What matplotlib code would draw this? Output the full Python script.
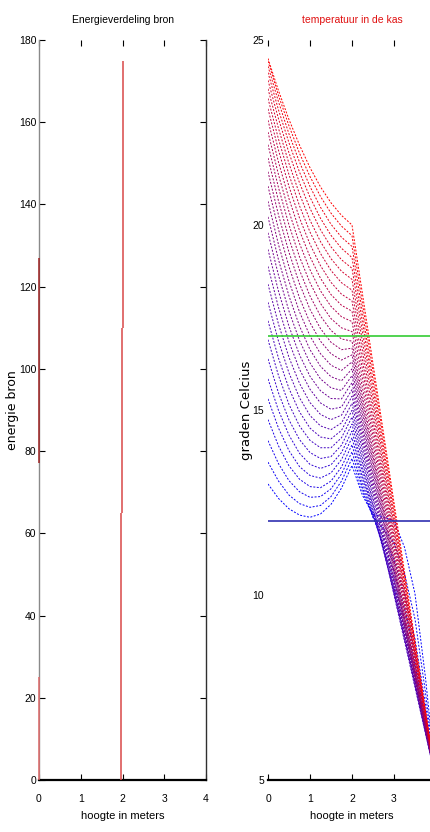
import matplotlib
matplotlib.use("Agg")
import matplotlib.pyplot as plt

# ---------------- data ----------------
heights = [0.0, 0.25, 0.5, 0.75, 1.0, 1.25, 1.5, 1.75, 2.0,
           2.25, 2.5, 2.75, 3.0, 3.25, 3.5, 3.75, 4.0]

# temperature profiles (first = earliest/blue, last = final/red)
temperature_profiles = [
    [13.00, 12.61, 12.33, 12.16, 12.10, 12.19, 12.45, 12.89, 13.50, 12.69, 12.18, 12.11, 12.00, 11.29, 10.03, 7.76, 5.00],
    [13.59, 13.08, 12.70, 12.47, 12.37, 12.42, 12.66, 13.08, 13.69, 12.79, 12.12, 11.78, 11.41, 10.58, 9.35, 7.36, 5.00],
    [14.17, 13.55, 13.09, 12.79, 12.64, 12.66, 12.87, 13.27, 13.87, 12.90, 12.10, 11.54, 10.95, 10.03, 8.81, 7.04, 5.00],
    [14.74, 14.03, 13.49, 13.13, 12.93, 12.90, 13.08, 13.46, 14.06, 13.03, 12.11, 11.38, 10.63, 9.64, 8.43, 6.81, 5.00],
    [15.30, 14.51, 13.90, 13.47, 13.23, 13.16, 13.30, 13.66, 14.25, 13.16, 12.16, 11.28, 10.39, 9.34, 8.12, 6.63, 5.00],
    [15.84, 14.99, 14.32, 13.83, 13.53, 13.42, 13.52, 13.85, 14.43, 13.30, 12.22, 11.22, 10.21, 9.10, 7.88, 6.49, 5.00],
    [16.38, 15.46, 14.73, 14.20, 13.85, 13.69, 13.74, 14.05, 14.62, 13.44, 12.30, 11.19, 10.09, 8.92, 7.70, 6.37, 5.00],
    [16.90, 15.93, 15.15, 14.57, 14.18, 13.98, 13.98, 14.25, 14.81, 13.59, 12.40, 11.22, 10.04, 8.83, 7.60, 6.31, 5.00],
    [17.41, 16.40, 15.58, 14.95, 14.51, 14.27, 14.22, 14.45, 14.99, 13.74, 12.50, 11.25, 10.00, 8.75, 7.50, 6.25, 5.00],
    [17.91, 16.86, 16.00, 15.33, 14.85, 14.57, 14.47, 14.65, 15.18, 13.91, 12.63, 11.36, 10.09, 8.82, 7.55, 6.27, 5.00],
    [18.40, 17.32, 16.42, 15.72, 15.20, 14.88, 14.74, 14.86, 15.37, 14.07, 12.77, 11.48, 10.18, 8.89, 7.59, 6.30, 5.00],
    [18.88, 17.77, 16.84, 16.10, 15.56, 15.19, 15.02, 15.08, 15.55, 14.23, 12.91, 11.60, 10.28, 8.96, 7.64, 6.32, 5.00],
    [19.34, 18.21, 17.26, 16.49, 15.91, 15.52, 15.31, 15.30, 15.74, 14.40, 13.05, 11.71, 10.37, 9.03, 7.69, 6.34, 5.00],
    [19.79, 18.64, 17.67, 16.88, 16.27, 15.84, 15.60, 15.53, 15.93, 14.56, 13.19, 11.83, 10.46, 9.10, 7.73, 6.37, 5.00],
    [20.22, 19.06, 18.08, 17.27, 16.63, 16.18, 15.90, 15.79, 16.11, 14.72, 13.33, 11.95, 10.56, 9.17, 7.78, 6.39, 5.00],
    [20.64, 19.47, 18.48, 17.65, 17.00, 16.52, 16.21, 16.07, 16.30, 14.89, 13.47, 12.06, 10.65, 9.24, 7.83, 6.41, 5.00],
    [21.05, 19.88, 18.87, 18.03, 17.36, 16.86, 16.52, 16.35, 16.49, 15.05, 13.61, 12.18, 10.74, 9.31, 7.87, 6.44, 5.00],
    [21.44, 20.27, 19.26, 18.41, 17.72, 17.20, 16.83, 16.63, 16.67, 15.21, 13.75, 12.29, 10.84, 9.38, 7.92, 6.46, 5.00],
    [21.81, 20.65, 19.63, 18.78, 18.08, 17.54, 17.15, 16.92, 16.86, 15.38, 13.89, 12.41, 10.93, 9.45, 7.97, 6.48, 5.00],
    [22.17, 21.01, 20.00, 19.14, 18.44, 17.88, 17.47, 17.22, 17.12, 15.60, 14.09, 12.57, 11.06, 9.54, 8.03, 6.51, 5.00],
    [22.51, 21.36, 20.36, 19.50, 18.79, 18.22, 17.80, 17.52, 17.39, 15.84, 14.29, 12.74, 11.19, 9.65, 8.10, 6.55, 5.00],
    [22.83, 21.70, 20.71, 19.85, 19.14, 18.56, 18.12, 17.83, 17.67, 16.09, 14.50, 12.92, 11.33, 9.75, 8.17, 6.58, 5.00],
    [23.14, 22.02, 21.04, 20.19, 19.48, 18.90, 18.45, 18.13, 17.95, 16.33, 14.71, 13.10, 11.48, 9.86, 8.24, 6.62, 5.00],
    [23.42, 22.32, 21.36, 20.52, 19.81, 19.23, 18.77, 18.44, 18.24, 16.59, 14.93, 13.28, 11.62, 9.97, 8.31, 6.66, 5.00],
    [23.68, 22.61, 21.66, 20.84, 20.13, 19.55, 19.09, 18.75, 18.53, 16.84, 15.15, 13.46, 11.77, 10.08, 8.38, 6.69, 5.00],
    [23.91, 22.87, 21.95, 21.14, 20.45, 19.87, 19.41, 19.06, 18.83, 17.10, 15.37, 13.64, 11.91, 10.19, 8.46, 6.73, 5.00],
    [24.12, 23.11, 22.22, 21.43, 20.75, 20.18, 19.72, 19.37, 19.12, 17.36, 15.59, 13.83, 12.06, 10.30, 8.53, 6.77, 5.00],
    [24.29, 23.33, 22.46, 21.70, 21.04, 20.48, 20.02, 19.67, 19.42, 17.62, 15.81, 14.01, 12.21, 10.41, 8.61, 6.80, 5.00],
    [24.43, 23.50, 22.68, 21.94, 21.31, 20.77, 20.32, 19.97, 19.71, 17.87, 16.04, 14.20, 12.36, 10.52, 8.68, 6.84, 5.00],
    [24.50, 23.63, 22.85, 22.16, 21.55, 21.03, 20.60, 20.26, 20.00, 18.13, 16.25, 14.38, 12.50, 10.63, 8.75, 6.88, 5.00],
]

upper_limit_temp = 17.0   # green line
lower_limit_temp = 12.0   # blue line

# energy of the sources (vertical spikes)
source_heights = [0.0, 0.0, 1.96, 1.97, 1.99, 2.0]
source_low = [0, 77, 0, 22, 65, 110]
source_high = [25, 127, 22, 65, 110, 175]

energy_xticks = [0, 1, 2, 3, 4]
energy_yticks = [0, 20, 40, 60, 80, 100, 120, 140, 160, 180]
temp_xticks = [0, 1, 2, 3]
temp_yticks = [5, 10, 15, 20, 25]

# ---------------- figure ----------------
narrow = ['Liberation Sans Narrow', 'Liberation Sans', 'DejaVu Sans']
W, H = 430, 832
fig = plt.figure(figsize=(W / 100, H / 100), dpi=100)
fig.patch.set_facecolor('white')

ax1 = fig.add_axes([39 / W, 52 / H, 167 / W, 740 / H])
ax2 = fig.add_axes([268 / W, 52 / H, 168 / W, 740 / H])

# ---- left: energy distribution ----
src_colors = ['#e06a6a', '#a02424', '#d84848', '#d84848', '#d84848', '#d84848']
ax1.vlines(source_heights, source_low, source_high, colors=src_colors,
           linewidth=1.1, zorder=4, clip_on=False)
ax1.set_xlim(0, 4)
ax1.set_ylim(0, 180)
ax1.set_xticks(energy_xticks)
ax1.set_yticks(energy_yticks)
ax1.tick_params(direction='in', length=4, top=True, right=True, width=0.8,
                labelsize=7.5, colors='black')
ax1.tick_params(axis='x', pad=10)
ax1.tick_params(axis='y', pad=2)
for lab in ax1.get_xticklabels() + ax1.get_yticklabels():
    lab.set_family(narrow)
ax1.spines['top'].set_visible(False)
ax1.spines['left'].set_color('#8a8a8a')
ax1.spines['left'].set_linewidth(1.0)
ax1.spines['right'].set_color('#303030')
ax1.spines['right'].set_linewidth(1.0)
ax1.spines['bottom'].set_color('black')
ax1.spines['bottom'].set_linewidth(1.6)
ax1.set_title('Energieverdeling bron', fontsize=7.5, family=narrow, pad=12, color='black')
ax1.set_xlabel('hoogte in meters', fontsize=8, family=narrow, labelpad=5)
ax1.set_ylabel('energie bron', fontsize=9, family='DejaVu Sans')
ax1.yaxis.set_label_coords(-0.122, 0.5)

# ---- right: temperature ----
n = len(temperature_profiles)
for i, prof in enumerate(temperature_profiles):
    s = i / (n - 1)
    ax2.plot(heights, prof, color=(s, 0.0, 1.0 - s), linewidth=0.7,
             linestyle=(0, (2.0, 1.6)), zorder=2)
ax2.axhline(upper_limit_temp, color='#33cc33', linewidth=1.2, zorder=3)
ax2.axhline(lower_limit_temp, color='#3030b0', linewidth=1.2, zorder=3)
ax2.set_xlim(0, 4)
ax2.set_ylim(5, 25)
ax2.set_xticks(temp_xticks)
ax2.set_yticks(temp_yticks)
ax2.tick_params(axis='x', direction='in', length=4, top=True, width=0.8,
                labelsize=7.5, pad=10)
ax2.tick_params(axis='y', length=0, labelsize=7.5, pad=3)
for lab in ax2.get_xticklabels() + ax2.get_yticklabels():
    lab.set_family(narrow)
for side in ['top', 'left', 'right']:
    ax2.spines[side].set_visible(False)
ax2.spines['bottom'].set_color('black')
ax2.spines['bottom'].set_linewidth(1.6)
ax2.set_title('temperatuur in de kas', fontsize=7.5, family=narrow, pad=12, color='#e01010')
ax2.set_xlabel('hoogte in meters', fontsize=8, family=narrow, labelpad=5)
ax2.set_ylabel('graden Celcius', fontsize=9.5, family='DejaVu Sans')
ax2.yaxis.set_label_coords(-0.089, 0.5)

fig.savefig('out.png', dpi=100, facecolor='white')
